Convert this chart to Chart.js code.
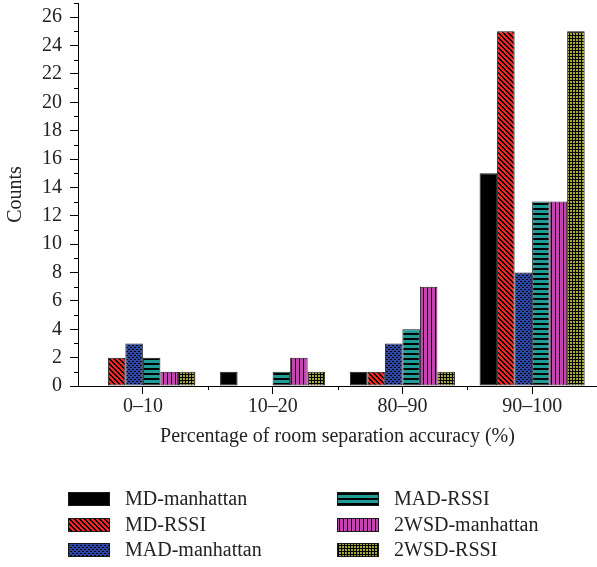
<!DOCTYPE html>
<html>
<head>
<meta charset="utf-8">
<script src="https://cdn.jsdelivr.net/npm/chart.js@4"></script>
<style>
  html, body { margin: 0; padding: 0; background: #fff; }
  #wrap { width: 597px; height: 567px; }
</style>
</head>
<body>
<div id="wrap"><canvas id="chart" width="597" height="567"></canvas></div>
<script>
const categories = ['0\u201310', '10\u201320', '80\u201390', '90\u2013100'];
const seriesNames = ['MD-manhattan', 'MD-RSSI', 'MAD-manhattan', 'MAD-RSSI', '2WSD-manhattan', '2WSD-RSSI'];
const mdManhattan = [0, 1, 1, 15];
const mdRssi = [2, 0, 1, 25];
const madManhattan = [3, 0, 3, 8];
const madRssi = [2, 1, 4, 13];
const wsdManhattan = [1, 2, 7, 13];
const wsdRssi = [1, 1, 1, 25];
const yTicks = [0, 2, 4, 6, 8, 10, 12, 14, 16, 18, 20, 22, 24, 26];

const FONT = '"Liberation Serif", "DejaVu Serif", serif';

// small tiles for the hatch fills
function makePattern(size, bg, isInk) {
  const c = document.createElement('canvas');
  c.width = size[0];
  c.height = size[1];
  const g = c.getContext('2d');
  g.fillStyle = bg;
  g.fillRect(0, 0, c.width, c.height);
  g.fillStyle = '#000';
  for (let y = 0; y < c.height; y++) {
    for (let x = 0; x < c.width; x++) {
      if (isInk(x, y)) g.fillRect(x, y, 1, 1);
    }
  }
  return g.createPattern(c, 'repeat');
}

const fills = [
  '#000000',
  makePattern([5, 5], '#f02424', (x, y) => ((x - y + 10) % 5) < 2),
  makePattern([4, 4], '#2c48a8', (x, y) => (x === 1 && y === 1) || (x === 3 && y === 3) || (x === 0 && y === 1) || (x === 2 && y === 3)),
  makePattern([1, 5], '#1f9c98', (x, y) => y >= 3),
  makePattern([4, 1], '#c444b2', (x, y) => x === 3),
  makePattern([3, 3], '#a8a838', (x, y) => x === 2 || y === 2)
];

const allValues = [mdManhattan, mdRssi, madManhattan, madRssi, wsdManhattan, wsdRssi];

const datasets = seriesNames.map((name, i) => ({
  label: name,
  data: allValues[i],
  backgroundColor: fills[i],
  borderColor: '#1a1a1a',
  borderWidth: 1,
  borderSkipped: false,
  categoryPercentage: 0.81,
  barPercentage: 1.0
}));

// minor ticks + two-column legend
const extrasPlugin = {
  id: 'extras',
  afterDraw(chart) {
    const { ctx, scales } = chart;
    const xs = scales.x, ys = scales.y;
    ctx.save();
    ctx.strokeStyle = '#000';
    ctx.lineWidth = 1;
    ctx.beginPath();
    for (let v = 1; v <= 27; v += 2) {
      const py = Math.round(ys.getPixelForValue(v)) + 0.5;
      ctx.moveTo(xs.left - 4, py);
      ctx.lineTo(xs.left, py);
    }
    for (let i = 0; i < categories.length - 1; i++) {
      const px = Math.round((xs.getPixelForValue(i) + xs.getPixelForValue(i + 1)) / 2) + 0.5;
      ctx.moveTo(px, ys.bottom);
      ctx.lineTo(px, ys.bottom + 4);
    }
    ctx.stroke();

    // legend, column-major order
    const colX = [68, 337];
    const rowY = [492, 518, 543];
    ctx.font = '20px ' + FONT;
    ctx.textBaseline = 'middle';
    chart.data.datasets.forEach((ds, i) => {
      const col = Math.floor(i / 3), row = i % 3;
      const bx = colX[col], by = rowY[row];
      ctx.fillStyle = ds.backgroundColor;
      ctx.fillRect(bx, by, 42, 14);
      ctx.strokeStyle = '#1a1a1a';
      ctx.strokeRect(bx + 0.5, by + 0.5, 41, 13);
      ctx.fillStyle = '#222';
      ctx.fillText(ds.label, bx + 57, by + 8);
    });
    ctx.restore();
  }
};

new Chart(document.getElementById('chart'), {
  type: 'bar',
  data: { labels: categories, datasets: datasets },
  options: {
    responsive: false,
    animation: false,
    layout: { padding: { top: 3, right: 0, bottom: 118, left: 4 } },
    plugins: {
      legend: { display: false },
      tooltip: { enabled: false }
    },
    scales: {
      x: {
        grid: { display: true, drawOnChartArea: false, offset: false, tickLength: 8, color: '#000' },
        border: { color: '#000', width: 1 },
        ticks: { color: '#222', font: { family: FONT, size: 20 }, padding: 1, maxRotation: 0 },
        title: {
          display: true,
          text: 'Percentage of room separation accuracy (%)',
          color: '#222',
          font: { family: FONT, size: 20 },
          padding: { top: 5, bottom: 0 }
        }
      },
      y: {
        min: 0,
        max: 27,
        afterBuildTicks(axis) {
          axis.ticks = yTicks.map(v => ({ value: v }));
        },
        afterFit(axis) {
          axis.paddingTop = 0;
        },
        grid: { display: true, drawOnChartArea: false, tickLength: 8, color: '#000' },
        border: { color: '#000', width: 1 },
        ticks: { color: '#222', font: { family: FONT, size: 20 }, padding: 8 },
        title: {
          display: true,
          text: 'Counts',
          color: '#222',
          font: { family: FONT, size: 20 },
          padding: { top: 0, bottom: 6 }
        }
      }
    }
  },
  plugins: [extrasPlugin]
});
</script>
</body>
</html>
